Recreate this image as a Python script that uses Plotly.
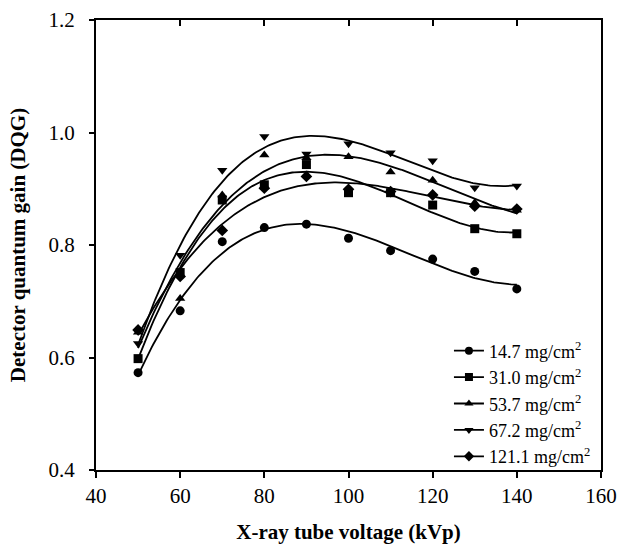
import numpy as np
import plotly.graph_objects as go

kvp = [50, 60, 70, 80, 90, 100, 110, 120, 130, 140]
dqg_14_7 = [0.573, 0.683, 0.806, 0.831, 0.837, 0.812, 0.790, 0.775, 0.753, 0.722]
dqg_31_0 = [0.598, 0.751, 0.880, 0.907, 0.943, 0.893, 0.893, 0.871, 0.829, 0.820]
dqg_53_7 = [0.645, 0.705, 0.889, 0.960, 0.955, 0.957, 0.930, 0.915, 0.875, 0.862]
dqg_67_2 = [0.625, 0.782, 0.933, 0.993, 0.962, 0.980, 0.964, 0.950, 0.902, 0.905]
dqg_121_1 = [0.649, 0.744, 0.826, 0.901, 0.922, 0.899, 0.895, 0.889, 0.869, 0.864]

series = [
    ("14.7 mg/cm<sup>2</sup>", dqg_14_7, "circle"),
    ("31.0 mg/cm<sup>2</sup>", dqg_31_0, "square"),
    ("53.7 mg/cm<sup>2</sup>", dqg_53_7, "triangle-up"),
    ("67.2 mg/cm<sup>2</sup>", dqg_67_2, "triangle-down"),
    ("121.1 mg/cm<sup>2</sup>", dqg_121_1, "diamond"),
]

FONT = "Liberation Serif, Times New Roman, serif"
fig = go.Figure()
xs = np.linspace(min(kvp), max(kvp), 200)
for name, ys, sym in series:
    coef = np.polyfit(kvp, ys, 3)
    fig.add_trace(go.Scatter(x=xs, y=np.polyval(coef, xs), mode="lines",
                             line=dict(color="black", width=1.8), showlegend=False,
                             hoverinfo="skip"))
    fig.add_trace(go.Scatter(x=kvp, y=ys, mode="markers", showlegend=False,
                             marker=dict(symbol=sym, size=9, color="black")))
for name, ys, sym in series:
    fig.add_trace(go.Scatter(x=[None], y=[None], mode="lines+markers", name=name,
                             line=dict(color="black", width=1.8),
                             marker=dict(symbol=sym, size=8, color="black")))

# top axis for inward ticks
fig.add_trace(go.Scatter(x=[None], y=[None], xaxis="x2", showlegend=False))

fig.update_layout(
    width=621, height=544,
    margin=dict(l=96, r=20, t=20, b=74),
    paper_bgcolor="white", plot_bgcolor="white",
    font=dict(family=FONT, color="black", size=20),
    xaxis=dict(range=[40, 160], tickvals=[40, 60, 80, 100, 120, 140, 160],
               ticks="outside", ticklen=6, tickwidth=2, tickcolor="black",
               showline=True, linecolor="black", linewidth=2, mirror=True,
               showgrid=False, zeroline=False, automargin=False,
               tickfont=dict(size=21, family=FONT),
               title=dict(text="<b>X-ray tube voltage (kVp)</b>", font=dict(size=21, family=FONT), standoff=18)),
    xaxis2=dict(range=[40, 160], overlaying="x", side="top", tickvals=[40, 60, 80, 100, 120, 140, 160],
                ticks="inside", ticklen=6, tickwidth=2, tickcolor="black",
                showticklabels=False, showgrid=False, zeroline=False, showline=False),
    yaxis=dict(range=[0.4, 1.2], tickvals=[0.4, 0.6, 0.8, 1.0, 1.2], ticktext=["0.4", "0.6", "0.8", "1.0", "1.2"],
               ticks="outside", ticklen=5, tickwidth=2, tickcolor="black",
               showline=True, linecolor="black", linewidth=2, mirror=True,
               showgrid=False, zeroline=False, ticklabelstandoff=10, automargin=False,
               tickfont=dict(size=21, family=FONT),
               title=dict(text="<b>Detector quantum gain (DQG)</b>", font=dict(size=21, family=FONT), standoff=17)),
    legend=dict(x=0.99, y=-0.01, xanchor="right", yanchor="bottom",
                bgcolor="rgba(0,0,0,0)", font=dict(size=18, family=FONT),
                tracegroupgap=0, itemwidth=30),
)
fig.write_html("out.html")
